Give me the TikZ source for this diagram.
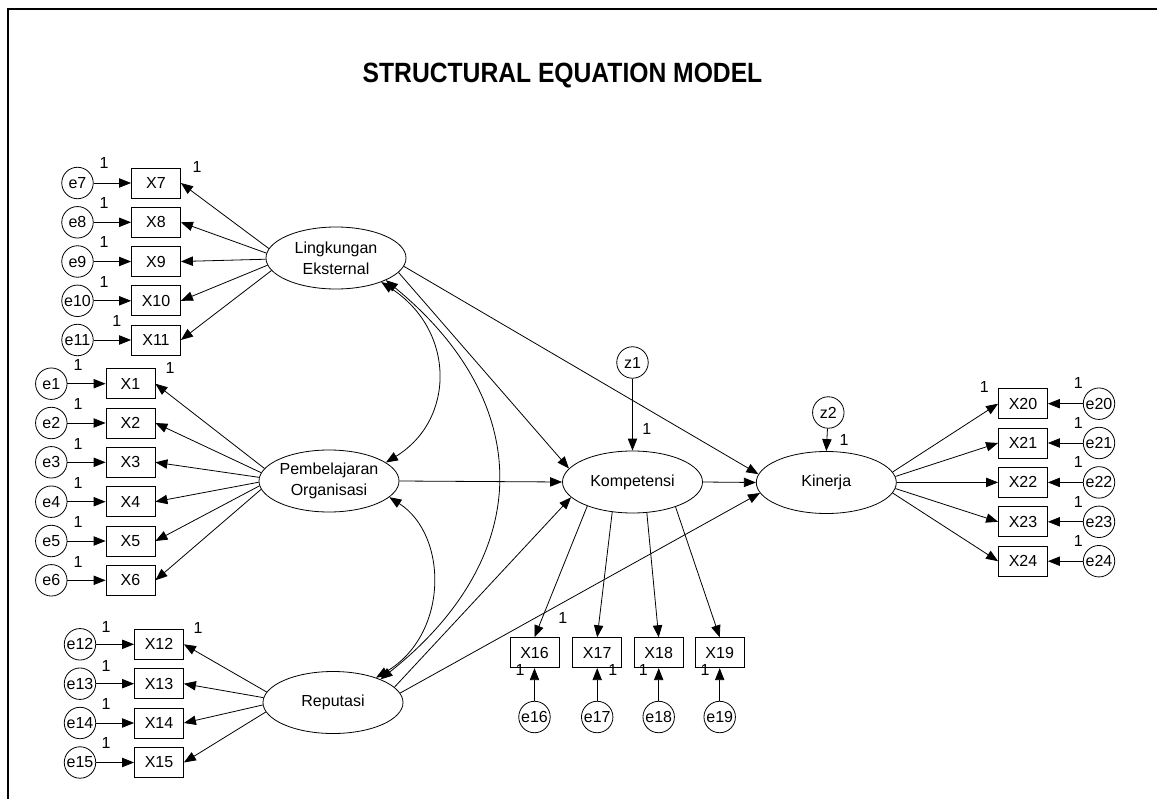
\documentclass[tikz,border=0pt]{standalone}
\usepackage{fontspec}
\setmainfont{Liberation Sans}
\usetikzlibrary{shapes.geometric,arrows.meta}
\begin{document}
\begin{tikzpicture}[x=0.75pt,y=0.75pt,yscale=-1,line width=0.6pt,
  every node/.style={font=\fontsize{12pt}{16pt}\selectfont},
  obsbox/.style={draw,rectangle,minimum width=36.75pt,minimum height=22.5pt,inner sep=0pt},
  errcirc/.style={draw,circle,minimum size=23.6pt,inner sep=0pt},
  latent/.style={draw,ellipse,minimum width=105pt,minimum height=46.5pt,inner sep=0pt,align=center},
  wlabel/.style={inner sep=0pt},
  arr/.style={-{Triangle[length=9pt,width=7pt]}},
  cov/.style={{Triangle[length=9pt,width=7pt]}-{Triangle[length=9pt,width=7pt]}}]
\useasboundingbox (0,0) rectangle (1157,799);

%Frame
\draw [line width=1.5pt] (8.3,799) -- (8.3,9) -- (1157,9) ;

% Text Node
\node (title) at (562.5,76) {\scalebox{1}[1.13]{\bfseries\fontsize{18.5pt}{22pt}\selectfont STRUCTURAL EQUATION MODEL}};

%Shape: Ellipse
\node [latent] (lingk) at (336,258) {Lingkungan\\Eksternal};
\node [latent] (pemb) at (329,481) {Pembelajaran\\Organisasi};
\node [latent] (repu) at (333,702.5) {Reputasi};
\node [latent] (komp) at (632.5,482) {Kompetensi};
\node [latent] (kiner) at (826.3,482.5) {Kinerja};

%Shape: Circle
\node [errcirc] (z1) at (632.5,362.5) {z1};
\node [errcirc] (z2) at (828.3,412.5) {z2};

%Shape: Rectangle
\node [obsbox] (x7) at (156,183) {X7};
\node [obsbox] (x8) at (156,222.3) {X8};
\node [obsbox] (x9) at (156,261.5) {X9};
\node [obsbox] (x10) at (156,300.8) {X10};
\node [obsbox] (x11) at (156,340) {X11};
\node [obsbox] (x1) at (130.5,383.7) {X1};
\node [obsbox] (x2) at (130.5,423) {X2};
\node [obsbox] (x3) at (130.5,462.3) {X3};
\node [obsbox] (x4) at (130.5,501.7) {X4};
\node [obsbox] (x5) at (130.5,541) {X5};
\node [obsbox] (x6) at (130.5,580.3) {X6};
\node [obsbox] (x12) at (159,644.3) {X12};
\node [obsbox] (x13) at (159,683.7) {X13};
\node [obsbox] (x14) at (159,723) {X14};
\node [obsbox] (x15) at (159,762.5) {X15};
\node [obsbox] (x16) at (534.5,652.7) {X16};
\node [obsbox] (x17) at (597.2,652.7) {X17};
\node [obsbox] (x18) at (658.7,652.7) {X18};
\node [obsbox] (x19) at (719.7,652.7) {X19};
\node [obsbox] (x20) at (1023,403.7) {X20};
\node [obsbox] (x21) at (1023,443) {X21};
\node [obsbox] (x22) at (1023,482.4) {X22};
\node [obsbox] (x23) at (1023,521.8) {X23};
\node [obsbox] (x24) at (1023,561.2) {X24};

%Shape: Circle
\node [errcirc] (e7) at (77.5,183) {e7};
\node [errcirc] (e8) at (77.5,222.3) {e8};
\node [errcirc] (e9) at (77.5,261.5) {e9};
\node [errcirc] (e10) at (77.5,300.8) {e10};
\node [errcirc] (e11) at (77.5,340) {e11};
\node [errcirc] (e1) at (51.3,383.7) {e1};
\node [errcirc] (e2) at (51.3,423) {e2};
\node [errcirc] (e3) at (51.3,462.3) {e3};
\node [errcirc] (e4) at (51.3,501.7) {e4};
\node [errcirc] (e5) at (51.3,541) {e5};
\node [errcirc] (e6) at (51.3,580.3) {e6};
\node [errcirc] (e12) at (80,644.3) {e12};
\node [errcirc] (e13) at (80,683.7) {e13};
\node [errcirc] (e14) at (80,723) {e14};
\node [errcirc] (e15) at (80,762.5) {e15};
\node [errcirc] (e16) at (534.5,717) {e16};
\node [errcirc] (e17) at (597.2,717) {e17};
\node [errcirc] (e18) at (658.7,717) {e18};
\node [errcirc] (e19) at (719.7,717) {e19};
\node [errcirc] (e20) at (1099,403.7) {e20};
\node [errcirc] (e21) at (1099,443) {e21};
\node [errcirc] (e22) at (1099,482.4) {e22};
\node [errcirc] (e23) at (1099,521.8) {e23};
\node [errcirc] (e24) at (1099,561.2) {e24};

%Straight Lines
\draw [arr] (e7) -- (x7) ;
\draw [arr] (e8) -- (x8) ;
\draw [arr] (e9) -- (x9) ;
\draw [arr] (e10) -- (x10) ;
\draw [arr] (e11) -- (x11) ;
\draw [arr] (e1) -- (x1) ;
\draw [arr] (e2) -- (x2) ;
\draw [arr] (e3) -- (x3) ;
\draw [arr] (e4) -- (x4) ;
\draw [arr] (e5) -- (x5) ;
\draw [arr] (e6) -- (x6) ;
\draw [arr] (e12) -- (x12) ;
\draw [arr] (e13) -- (x13) ;
\draw [arr] (e14) -- (x14) ;
\draw [arr] (e15) -- (x15) ;
\draw [arr] (e16) -- (x16) ;
\draw [arr] (e17) -- (x17) ;
\draw [arr] (e18) -- (x18) ;
\draw [arr] (e19) -- (x19) ;
\draw [arr] (e20) -- (x20) ;
\draw [arr] (e21) -- (x21) ;
\draw [arr] (e22) -- (x22) ;
\draw [arr] (e23) -- (x23) ;
\draw [arr] (e24) -- (x24) ;

%Straight Lines
\draw [arr] (lingk.172) -- (x7.east) ;
\draw [arr] (lingk.176) -- (x8.east) ;
\draw [arr] (lingk.181) -- (x9.east) ;
\draw [arr] (lingk.186) -- (x10.east) ;
\draw [arr] (lingk.191) -- (x11.east) ;
\draw [arr] (pemb.169) -- (x1.east) ;
\draw [arr] (pemb.173) -- (x2.east) ;
\draw [arr] (pemb.177) -- (x3.east) ;
\draw [arr] (pemb.181) -- (x4.east) ;
\draw [arr] (pemb.184) -- (x5.east) ;
\draw [arr] (pemb.187) -- (x6.east) ;
\draw [arr] (repu.171) -- (x12.east) ;
\draw [arr] (repu.176) -- (x13.east) ;
\draw [arr] (repu.182) -- (x14.east) ;
\draw [arr] (repu.188) -- (x15.east) ;
\draw [arr] (komp.208) -- (x16.north) ;
\draw [arr] (komp.236) -- (x17.north) ;
\draw [arr] (komp.295) -- (x18.north) ;
\draw [arr] (komp.330) -- (x19.north) ;
\draw [arr] (kiner.9) -- (x20.west) ;
\draw [arr] (kiner.5) -- (x21.west) ;
\draw [arr] (kiner.0) -- (x22.west) ;
\draw [arr] (kiner.355) -- (x23.west) ;
\draw [arr] (kiner.351) -- (x24.west) ;

%Straight Lines
\draw [arr] (lingk.347) -- (komp.168) ;
\draw [arr] (lingk.353) -- (kiner.173) ;
\draw [arr] (pemb.east) -- (komp.west) ;
\draw [arr] (repu.14) -- (komp.194) ;
\draw [arr] (repu.8) -- (kiner.189) ;
\draw [arr] (komp.east) -- (kiner.west) ;
\draw [arr] (z1) -- (komp.north) ;
\draw [arr] (z2) -- (kiner.north) ;

%Curve Lines
\draw [cov] (lingk.332) .. controls +(74,48) and +(70,-43) .. (pemb.18) ;
\draw [cov] (pemb.345) .. controls +(59,38) and +(73,-43) .. (repu.30) ;
\draw [cov] (lingk.336) .. controls +(150,123) and +(155,-123) .. (repu.26) ;

% Text Node
\node [wlabel] (w7) at (104,163) {1};
\node [wlabel] (w8) at (104,202.7) {1};
\node [wlabel] (w9) at (104,241.7) {1};
\node [wlabel] (w10) at (104,281.7) {1};
\node [wlabel] (w11) at (116.7,321) {1};
\node [wlabel] (wx7) at (197,167) {1};
\node [wlabel] (w1) at (78,365) {1};
\node [wlabel] (w2) at (78,404) {1};
\node [wlabel] (w3) at (78,444) {1};
\node [wlabel] (w4) at (78,483.3) {1};
\node [wlabel] (w5) at (78,522.3) {1};
\node [wlabel] (w6) at (78,561.7) {1};
\node [wlabel] (wx1) at (170,368.3) {1};
\node [wlabel] (w12) at (106,626.7) {1};
\node [wlabel] (w13) at (106,666) {1};
\node [wlabel] (w14) at (106,704.3) {1};
\node [wlabel] (w15) at (106,743.3) {1};
\node [wlabel] (wx12) at (198,627.7) {1};
\node [wlabel] (wx16) at (562.7,618) {1};
\node [wlabel] (w16) at (520,670) {1};
\node [wlabel] (w17) at (612.7,670) {1};
\node [wlabel] (w18) at (643.3,670) {1};
\node [wlabel] (w19) at (705,670) {1};
\node [wlabel] (wz1) at (646.7,429) {1};
\node [wlabel] (wz2) at (844,440) {1};
\node [wlabel] (wx20) at (984.3,386.7) {1};
\node [wlabel] (w20) at (1078.3,383.3) {1};
\node [wlabel] (w21) at (1078.3,422.7) {1};
\node [wlabel] (w22) at (1078.3,461.7) {1};
\node [wlabel] (w23) at (1078.3,501.7) {1};
\node [wlabel] (w24) at (1078.3,541) {1};

\end{tikzpicture}
\end{document}
